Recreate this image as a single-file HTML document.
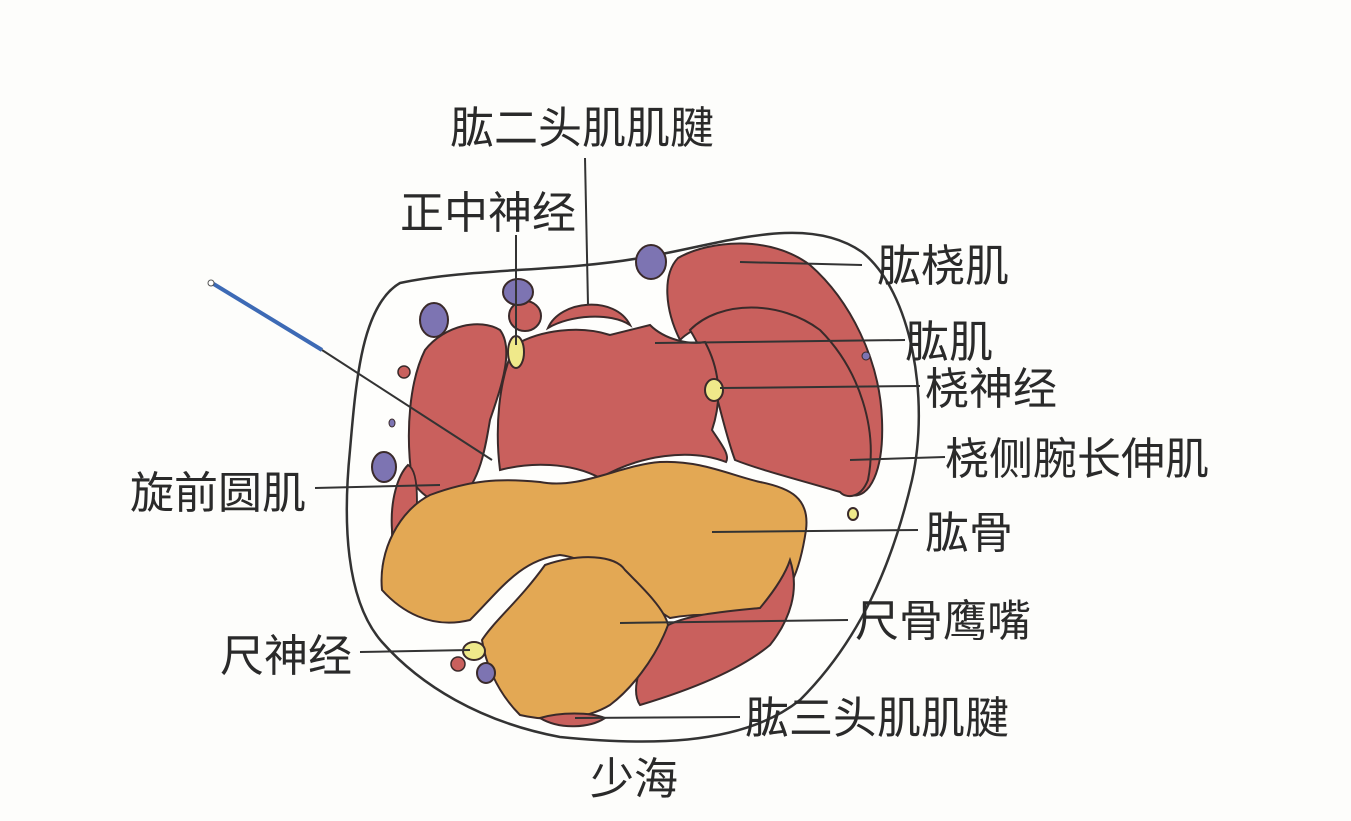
<!DOCTYPE html>
<html><head><meta charset="utf-8"><style>
html,body{margin:0;padding:0;background:#fdfdfb;}
svg{display:block}
text{font-family:"Liberation Sans","Noto Sans CJK SC",sans-serif;font-size:44px;fill:#2a2a2a;}
</style></head><body>
<svg width="1351" height="821" viewBox="0 0 1351 821" xmlns="http://www.w3.org/2000/svg">
<rect width="1351" height="821" fill="#fdfdfb"/>
<path d="M400,283 C470,268 560,272 640,258 C720,245 805,212 862,252 C912,292 930,400 912,480 C892,565 860,640 800,700 C740,748 640,745 560,737 C480,722 420,685 382,642 C345,600 343,520 350,450 C356,380 362,305 400,283 Z" fill="#fefefc" stroke="#333" stroke-width="2.5"/>
<g stroke="#3a2a2a" stroke-width="2">
<path d="M678,258 C710,240 770,235 810,265 C850,300 880,360 882,420 C884,470 870,500 850,495 C830,440 800,380 760,340 C720,310 690,330 680,340 C665,310 662,275 678,258 Z" fill="#c9605d"/>
<path d="M690,330 C720,300 780,300 820,330 C860,370 878,430 868,480 C860,500 845,498 840,492 C800,480 760,470 735,460 C720,420 715,370 690,330 Z" fill="#c9605d"/>
<path d="M515,345 C540,330 580,325 610,335 L650,325 C665,340 690,345 705,342 C720,370 722,400 712,430 C722,445 730,455 726,462 C690,448 640,455 600,478 C570,462 530,462 500,470 C495,430 498,380 515,345 Z" fill="#c9605d"/>
<path d="M548,328 C560,300 615,295 630,325 C610,312 570,315 548,328 Z" fill="#c9605d"/>
<path d="M425,350 C445,325 480,318 500,330 C515,350 500,390 490,420 C485,450 480,480 460,500 C440,510 420,495 412,480 C405,430 410,380 425,350 Z" fill="#c9605d"/>
<path d="M408,465 C418,470 420,500 412,560 C402,565 392,555 392,530 C390,500 398,475 408,465 Z" fill="#c9605d"/>
<path d="M430,495 C470,480 500,478 540,482 C580,490 620,465 660,462 C700,460 730,475 760,482 C790,488 810,498 806,530 C800,570 790,600 760,610 C720,618 700,612 670,618 C640,600 600,560 560,555 C520,560 500,590 470,620 C430,630 400,610 382,590 C378,550 400,510 430,495 Z" fill="#e3a854"/>
<path d="M790,560 C800,590 790,620 770,645 C740,670 690,690 640,705 C630,690 640,660 660,630 C680,615 720,612 760,608 C775,590 785,575 790,560 Z" fill="#c9605d"/>
<path d="M545,565 C580,553 615,555 625,570 C645,590 665,610 668,625 C655,660 630,690 610,705 C585,720 550,722 520,715 C495,690 485,660 482,640 C495,620 520,600 545,565 Z" fill="#e3a854"/>
<path d="M540,718 C560,730 590,728 605,718 C590,712 560,712 540,718 Z" fill="#c9605d"/>
<ellipse cx="525" cy="316" rx="16" ry="15" fill="#c9605d"/>
<ellipse cx="518" cy="292" rx="15" ry="13" fill="#7d74b2"/>
<ellipse cx="651" cy="262" rx="15" ry="17" fill="#7d74b2"/>
<ellipse cx="434" cy="320" rx="14" ry="17" fill="#7d74b2"/>
<ellipse cx="384" cy="467" rx="12" ry="15" fill="#7d74b2"/>
<ellipse cx="486" cy="673" rx="9" ry="10" fill="#7d74b2"/>
<ellipse cx="404" cy="372" rx="6" ry="6" fill="#c9605d" stroke-width="1.5"/>
<ellipse cx="458" cy="664" rx="7" ry="7" fill="#c9605d" stroke-width="1.5"/>
<ellipse cx="866" cy="356" rx="4" ry="4" fill="#7d74b2" stroke-width="1"/>
<ellipse cx="392" cy="423" rx="3" ry="4" fill="#7d74b2" stroke-width="1"/>
<ellipse cx="516" cy="352" rx="8" ry="16" fill="#efe98a"/>
<ellipse cx="714" cy="390" rx="9" ry="11" fill="#efe98a"/>
<ellipse cx="853" cy="514" rx="5" ry="6" fill="#efe98a"/>
<ellipse cx="474" cy="651" rx="11" ry="9" fill="#efe98a"/>
</g>
<g stroke="#333" stroke-width="2" fill="none">
<line x1="585" y1="158" x2="588" y2="305"/>
<line x1="516" y1="235" x2="516" y2="345"/>
<line x1="740" y1="262" x2="862" y2="265"/>
<line x1="655" y1="343" x2="905" y2="340"/>
<line x1="720" y1="388" x2="920" y2="386"/>
<line x1="850" y1="460" x2="945" y2="457"/>
<line x1="315" y1="488" x2="440" y2="485"/>
<line x1="712" y1="532" x2="918" y2="530"/>
<line x1="620" y1="623" x2="848" y2="620"/>
<line x1="360" y1="652" x2="470" y2="650"/>
<line x1="575" y1="718" x2="740" y2="717"/>
<line x1="322" y1="350" x2="492" y2="460"/>
</g>
<line x1="212" y1="283" x2="322" y2="350" stroke="#3d6ab5" stroke-width="4"/>
<circle cx="211" cy="283" r="3" fill="#fff" stroke="#555" stroke-width="1"/>
<text x="450" y="143">肱二头肌肌腱</text>
<text x="400" y="228">正中神经</text>
<text x="877" y="281">肱桡肌</text>
<text x="905" y="357">肱肌</text>
<text x="925" y="404">桡神经</text>
<text x="945" y="474">桡侧腕长伸肌</text>
<text x="130" y="508">旋前圆肌</text>
<text x="925" y="548">肱骨</text>
<text x="855" y="636">尺骨鹰嘴</text>
<text x="220" y="671">尺神经</text>
<text x="745" y="733">肱三头肌肌腱</text>
<text x="590" y="794">少海</text>
</svg>
</body></html>
